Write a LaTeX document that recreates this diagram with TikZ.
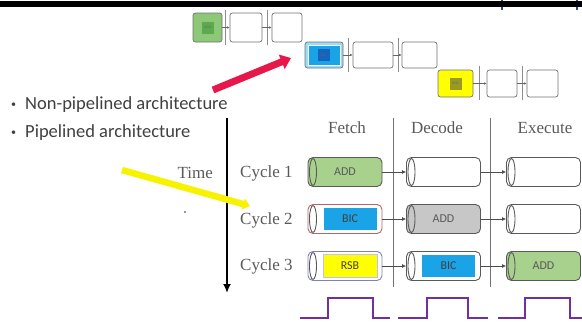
\documentclass[tikz,border=0pt]{standalone}
\usepackage{fontspec}
\setmainfont{Liberation Serif}
\newfontfamily\calib{Carlito}
\usetikzlibrary{arrows.meta}
\definecolor{addgreen}{HTML}{A9D18E}
\definecolor{thgreen}{HTML}{8CC878}
\definecolor{thgreenin}{HTML}{5DAA4E}
\definecolor{bicblue}{HTML}{1AA3E6}
\definecolor{thbluein}{HTML}{1565C0}
\definecolor{rsbyellow}{HTML}{FFFF00}
\definecolor{thyellowin}{HTML}{9A9A20}
\definecolor{clockpurple}{HTML}{7030A0}
\definecolor{arrowred}{HTML}{E8174A}
\definecolor{hdrblue}{HTML}{1F4E9A}
\definecolor{txtgray}{HTML}{5A5A5A}
\definecolor{hiyellow}{HTML}{F6F200}
\begin{document}
\begin{tikzpicture}[x=1pt,y=-1pt,
  cyl/.style={draw=black!65, line width=0.9pt, rounded corners=5pt,
    minimum width=74pt, minimum height=29pt, inner sep=0pt,
    font=\calib\fontsize{12}{12}\selectfont, text=black!65,
    path picture={\draw[black!65, line width=0.9pt]
      ([xshift=5pt]path picture bounding box.west) ellipse [x radius=3.5pt, y radius=13.5pt];}},
  tag/.style={minimum width=54pt, minimum height=23pt, inner sep=0pt, line width=0.6pt,
    font=\calib\fontsize{12}{12}\selectfont, text=black!75},
  conn/.style={black!70, line width=0.7pt, -{Latex[length=4pt,width=4pt]}},
  tconn/.style={black!60, line width=0.5pt, -{Latex[length=2.5pt,width=2.5pt]}},
  sep/.style={black!55, line width=0.8pt},
  lbl/.style={font=\fontsize{17}{17}\selectfont, text=txtgray, inner sep=0pt},
  thumb/.style={draw=black!55, line width=0.7pt, rounded corners=2.5pt, inner sep=0pt},
  thin/.style={minimum size=12pt, inner sep=0pt, font=\fontsize{3.5}{3.5}\selectfont},
  bullet/.style={anchor=west, inner sep=0pt, font=\calib\fontsize{18.5}{18.5}\selectfont, text=black!75}
]
\useasboundingbox (0,0) rectangle (582,325);
\fill[white] (0,0) rectangle (582,325);

% header bar
\draw[hdrblue, line width=2pt] (502,0) -- (502,10);
\draw[hdrblue, line width=2pt] (577,0) -- (577,10);
\fill[black] (0,1) rectangle (582,7);

% thumbnails row 1
\draw[black!45, line width=0.6pt] (225,10) -- (225,45) (267,10) -- (267,45);
\node[thumb, minimum width=29pt, minimum height=29pt, fill=thgreen] (t1a) at (207.5,27.5) {};
\node[thin, fill=thgreenin, text=black!60] (t1ai) at (t1a.center) {ADD};
\node[thumb, minimum width=32pt, minimum height=29pt] (t1b) at (246,27.5) {};
\node[thumb, minimum width=30pt, minimum height=29pt] (t1c) at (287,27.5) {};
\draw[tconn] (t1a) -- (t1b);
\draw[tconn] (t1b) -- (t1c);

% thumbnails row 2
\draw[black!45, line width=0.6pt] (348,38) -- (348,72) (398,38) -- (398,72);
\node[thumb, minimum width=38pt, minimum height=26pt, fill=cyan!40] (t2a) at (324,55) {};
\node[minimum width=32pt, minimum height=20pt, inner sep=0pt, fill=bicblue, draw=white, line width=1pt] (t2am) at (t2a.center) {};
\node[thin, fill=thbluein, text=black!60] (t2ai) at (t2a.center) {BIC};
\node[thumb, minimum width=40pt, minimum height=26pt] (t2b) at (373,55) {};
\node[thumb, minimum width=35pt, minimum height=26pt] (t2c) at (419.5,55) {};
\draw[tconn] (t2a) -- (t2b);
\draw[tconn] (t2b) -- (t2c);

% thumbnails row 3
\draw[black!45, line width=0.6pt] (479,66) -- (479,100) (522,66) -- (522,100);
\node[thumb, minimum width=35pt, minimum height=27pt, fill=rsbyellow] (t3a) at (455.5,83.5) {};
\node[thin, fill=thyellowin, text=black!60] (t3ai) at (t3a.center) {RSB};
\node[thumb, minimum width=30pt, minimum height=27pt] (t3b) at (502,83.5) {};
\node[thumb, minimum width=31pt, minimum height=27pt] (t3c) at (542.5,83.5) {};
\draw[tconn] (t3a) -- (t3b);
\draw[tconn] (t3b) -- (t3c);

% red arrow
\coordinate (ra) at (213,90);
\coordinate (rb) at (291,58);
\draw[arrowred, line width=7pt, -{Triangle[length=10pt,width=15pt]}] (ra) -- (rb);

% bullets
\node[bullet] (b1) at (11,105) {\makebox[14pt][l]{\raisebox{2.8pt}{\fontsize{10}{10}\selectfont •}}Non-pipelined architecture};
\node[bullet] (b2) at (11,133) {\makebox[14pt][l]{\raisebox{2.8pt}{\fontsize{10}{10}\selectfont •}}Pipelined architecture};

% column headers
\node[lbl] (hf) at (347,128) {Fetch};
\node[lbl] (hd) at (437,128) {Decode};
\node[lbl] (he) at (545,128) {Execute};
\draw[sep] (393,118) -- (393,287);
\draw[sep] (490,118) -- (490,287);

% time axis
\coordinate (ta) at (227,118);
\coordinate (tb) at (227,293);
\draw[black, line width=2.6pt, -{Latex[length=9pt,width=8pt]}] (ta) -- (tb);
\node[lbl, anchor=east] (time) at (213,173) {Time};
\fill[black!55] (185,212) circle (1.1pt);

% cycle labels
\node[lbl, anchor=west] (c1) at (240,173) {Cycle 1};
\node[lbl, anchor=west] (c2) at (240,220) {Cycle 2};
\node[lbl, anchor=west] (c3) at (240,266) {Cycle 3};

% cycle 1
\node[cyl, fill=addgreen] (f1) at (345,172) {ADD};
\node[cyl] (d1) at (443.5,172) {};
\node[cyl] (e1) at (543.5,172) {};
\draw[conn] (f1) -- (d1);
\draw[conn] (d1) -- (e1);

% cycle 2
\node[cyl, draw=black!50!red!60] (f2) at (345,219) {};
\node[tag, fill=bicblue, draw=white] (f2t) at ([xshift=5pt]f2.center) {BIC};
\node[cyl, fill=black!22] (d2) at (443.5,219) {ADD};
\node[cyl] (e2) at (543.5,219) {};
\draw[conn] (f2) -- (d2);
\draw[conn] (d2) -- (e2);

% cycle 3
\node[cyl, draw=black!50!blue!50] (f3) at (345,266) {};
\node[tag, fill=rsbyellow, draw=blue!25] (f3t) at ([xshift=5pt]f3.center) {RSB};
\node[cyl] (d3) at (443.5,266) {};
\node[tag, fill=bicblue, draw=white] (d3t) at ([xshift=5pt]d3.center) {BIC};
\node[cyl, fill=addgreen] (e3) at (543.5,266) {ADD};
\draw[conn] (f3) -- (d3);
\draw[conn] (d3) -- (e3);

% yellow arrow
\coordinate (ya) at (122,170);
\coordinate (yb) at (250,206);
\draw[hiyellow, line width=6.5pt, -{Triangle[length=7pt,width=11pt]}] (ya) -- (yb);

% clock
\draw[clockpurple, line width=1.8pt] (300,318) -- (328,318) -- (328,298) -- (373,298) -- (373,318) -- (390,318);
\draw[clockpurple, line width=1.8pt] (398,318) -- (427,318) -- (427,298) -- (468,298) -- (468,318) -- (488,318);
\draw[clockpurple, line width=1.8pt] (498,318) -- (525,318) -- (525,298) -- (570,298) -- (570,318) -- (582,318);
\end{tikzpicture}
\end{document}
